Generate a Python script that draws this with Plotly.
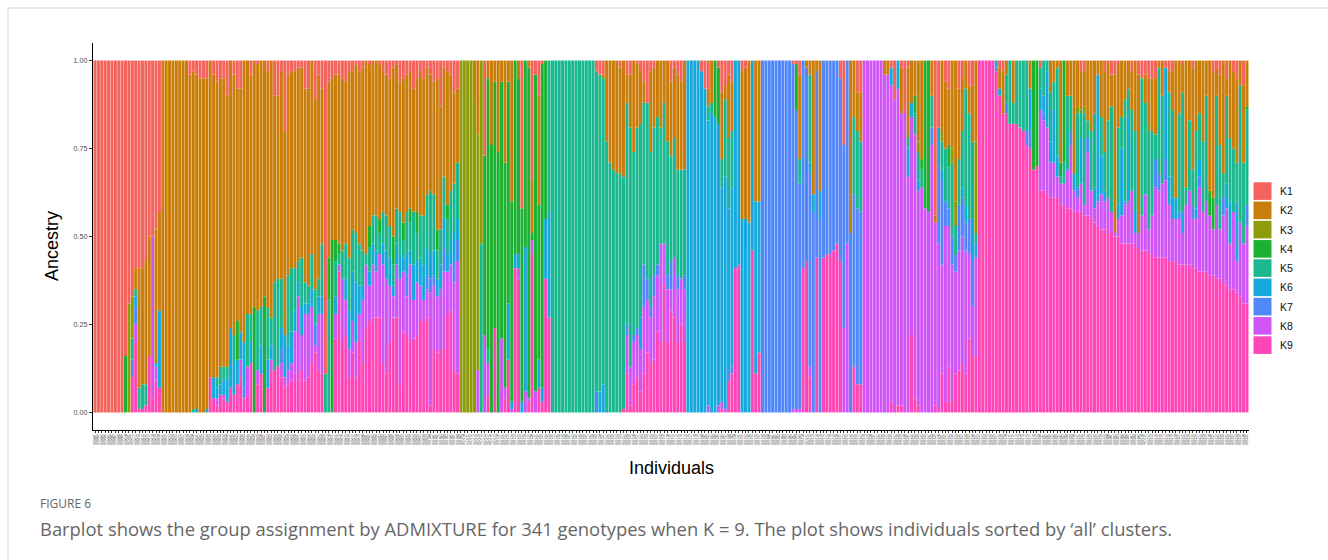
import plotly.graph_objects as go

# ADMIXTURE ancestry (percent) for each genotype, left to right.
# Keys are cluster numbers (1 = K1 ... 9 = K9); absent keys are 0.
block_a = (
    [{1: 100}] * 9
    + [
        {1: 84, 4: 16},
        {1: 69, 3: 31},
        {1: 67, 3: 12, 5: 6, 7: 5, 9: 10},
        {1: 59, 2: 6, 5: 2, 6: 3, 7: 5, 8: 5, 9: 20},
        {1: 59, 2: 34, 5: 6, 9: 1},
        {1: 59, 2: 33, 5: 7, 9: 1},
        {1: 57, 2: 35, 5: 6, 9: 2},
        {1: 50, 2: 34, 9: 16},
        {1: 50, 8: 46, 9: 4},
        {1: 48, 2: 38, 6: 1, 8: 4, 9: 9},
        {1: 43, 2: 28, 6: 22, 9: 7},
    ]
    + [{2: 100}] * 8
    + [
        {1: 4, 2: 96},
        {1: 3, 2: 96, 5: 1},
        {1: 4, 2: 95, 6: 1},
        {1: 5, 2: 95},
        {1: 5, 2: 95},
        {1: 5, 2: 94, 6: 1},
        {2: 90, 9: 10},
        {1: 4, 2: 86, 6: 6, 9: 4},
        {1: 6, 2: 84, 5: 3, 6: 3, 8: 2, 9: 2},
        {1: 5, 2: 82, 5: 5, 6: 3, 9: 5},
        {1: 5, 2: 82, 5: 4, 6: 4, 8: 1, 9: 4},
        {1: 10, 2: 77, 5: 3, 6: 7, 9: 3},
        {2: 76, 6: 17, 9: 7},
        {1: 4, 2: 74, 5: 8, 6: 9, 9: 5},
        {1: 8, 2: 66, 4: 11, 6: 7, 9: 8},
        {1: 8, 2: 69, 6: 8, 8: 5, 9: 10},
        {2: 80, 6: 13, 7: 3, 9: 4},
        {2: 72, 5: 15, 8: 8, 9: 5},
        {1: 4, 2: 68, 5: 8, 6: 6, 9: 14},
        {2: 70, 4: 30},
        {1: 1, 2: 70, 5: 17, 8: 4, 9: 8},
        {2: 70, 5: 11, 6: 8, 9: 11},
        {2: 67, 4: 33},
        {1: 3, 2: 67, 5: 15, 6: 8, 9: 7},
        {2: 73, 5: 8, 6: 4, 8: 3, 9: 12},
        {1: 10, 2: 53, 5: 25, 9: 12},
        {1: 10, 2: 52, 5: 25, 9: 13},
    ]
)

block_b = [
    {1: 3, 2: 59, 5: 14, 6: 6, 7: 4, 8: 4, 9: 10},
    {1: 20, 2: 58, 6: 12, 8: 3, 9: 7},
    {1: 4, 2: 57, 5: 20, 6: 7, 8: 4, 9: 8},
    {1: 3, 2: 56, 5: 18, 6: 9, 8: 5, 9: 9},
    {1: 3, 2: 56, 5: 12, 6: 6, 8: 12, 9: 11},
    {1: 2, 2: 55, 5: 6, 6: 4, 8: 24, 9: 9},
    {1: 2, 2: 54, 5: 14, 6: 8, 8: 10, 9: 12},
    {1: 8, 2: 55, 5: 6, 6: 3, 8: 19, 9: 9},
    {1: 8, 2: 56, 5: 5, 6: 3, 8: 18, 9: 10},
    {2: 55, 5: 10, 6: 5, 8: 16, 9: 14},
    {1: 11, 2: 54, 5: 10, 7: 6, 8: 2, 9: 17},
    {1: 4, 2: 58, 5: 5, 6: 5, 8: 16, 9: 12},
    {1: 8, 2: 44, 5: 15, 6: 5, 8: 17, 9: 11},
    {1: 89, 5: 11},
    {1: 6, 2: 50, 4: 12, 5: 32},
    {1: 5, 2: 46, 4: 49},
    {1: 4, 2: 47, 4: 6, 5: 10, 6: 5, 8: 7, 9: 21},
    {1: 4, 2: 48, 4: 3, 5: 3, 8: 2, 9: 40},
    {1: 5, 2: 49, 5: 8, 8: 18, 9: 20},
    {1: 6, 2: 46, 5: 10, 6: 6, 8: 10, 9: 22},
    {1: 3, 2: 53, 5: 15, 6: 11, 8: 8, 9: 10},
    {1: 3, 2: 45, 5: 12, 6: 14, 8: 9, 9: 17},
    {1: 1, 2: 48, 5: 14, 6: 17, 8: 10, 9: 10},
    {1: 3, 2: 49, 5: 12, 6: 8, 8: 8, 9: 20},
    {1: 2, 2: 52, 5: 10, 6: 4, 8: 18, 9: 14},
    {2: 55, 5: 3, 8: 18, 9: 24},
    {1: 1, 2: 46, 4: 6, 5: 7, 6: 4, 8: 10, 9: 26},
    {2: 44, 5: 8, 6: 6, 8: 15, 9: 27},
    {2: 44, 5: 10, 6: 6, 8: 13, 9: 27},
    {1: 1, 2: 44, 4: 4, 5: 6, 8: 18, 9: 27},
    {1: 3, 2: 40, 5: 9, 6: 6, 8: 28, 9: 14},
    {1: 4, 2: 40, 5: 10, 6: 8, 8: 27, 9: 11},
    {1: 5, 2: 42, 5: 9, 6: 8, 8: 16, 9: 20},
    {1: 2, 2: 48, 4: 8, 5: 6, 6: 3, 8: 6, 9: 27},
    {1: 1, 2: 41, 5: 10, 6: 6, 8: 15, 9: 27},
    {1: 6, 2: 37, 5: 12, 6: 7, 8: 30, 9: 8},
    {1: 5, 2: 41, 4: 5, 5: 5, 6: 4, 8: 17, 9: 23},
    {1: 4, 2: 39, 5: 12, 6: 6, 7: 6, 8: 11, 9: 22},
    {1: 3, 2: 39, 4: 4, 5: 8, 6: 4, 8: 22, 9: 20},
    {1: 8, 2: 35, 5: 15, 6: 10, 8: 11, 9: 21},
    {1: 5, 2: 38, 4: 6, 5: 8, 6: 6, 8: 15, 9: 22},
    {1: 3, 2: 41, 5: 12, 6: 8, 8: 10, 9: 26},
    {1: 5, 2: 39, 5: 14, 6: 10, 8: 6, 9: 26},
    {1: 2, 2: 36, 5: 15, 6: 8, 7: 4, 8: 8, 9: 27},
    {1: 4, 2: 33, 5: 18, 6: 7, 7: 4, 8: 32, 9: 2},
    {1: 6, 2: 32, 5: 16, 6: 7, 7: 3, 8: 18, 9: 18},
    {1: 5, 2: 43, 4: 6, 5: 8, 6: 5, 8: 16, 9: 17},
    {1: 13, 2: 35, 5: 10, 6: 7, 8: 17, 9: 18},
    {1: 2, 2: 31, 5: 12, 6: 8, 7: 7, 8: 22, 9: 18},
    {1: 3, 2: 38, 4: 4, 5: 10, 6: 5, 8: 12, 9: 28},
    {1: 4, 2: 33, 5: 14, 6: 7, 8: 13, 9: 29},
    {1: 9, 2: 26, 5: 14, 6: 8, 7: 6, 8: 25, 9: 12},
    {1: 8, 2: 21, 5: 16, 6: 6, 7: 6, 8: 32, 9: 11},
]

block_c = (
    [{3: 100}] * 4
    + [
        {2: 12, 3: 88},
        {2: 21, 3: 67, 8: 12},
        {3: 52, 5: 48},
        {1: 27, 4: 51, 8: 22},
        {2: 5, 4: 77, 5: 4, 8: 9, 9: 5},
        {2: 24, 4: 76},
        {2: 6, 4: 70, 9: 24},
        {2: 26, 4: 74},
        {2: 6, 4: 73, 8: 21},
        {2: 29, 4: 64, 8: 3, 9: 4},
        {2: 6, 4: 63, 6: 16, 9: 15},
        {2: 40, 4: 57, 6: 2, 8: 1},
        {4: 55, 6: 4, 9: 41},
        {2: 5, 4: 50, 6: 4, 8: 3, 9: 38},
        {1: 42, 4: 55, 6: 3},
        {4: 53, 6: 41, 8: 6},
        {2: 2, 4: 94, 8: 1, 9: 3},
        {1: 34, 2: 15, 4: 2, 8: 4, 9: 45},
        {1: 4, 4: 90, 8: 6},
        {1: 10, 2: 31, 4: 44, 6: 8, 9: 7},
        {1: 1, 4: 92, 6: 4, 9: 3},
        {4: 45, 6: 17, 9: 38},
        {5: 43, 6: 30, 9: 27},
    ]
    + [{5: 100}] * 13
    + [
        {1: 3, 5: 91, 7: 6},
        {1: 4, 5: 90, 6: 6},
        {1: 4, 2: 1, 5: 87, 6: 8},
        {2: 23, 5: 77},
        {2: 29, 5: 71},
        {2: 31, 5: 69},
        {2: 32, 5: 68},
        {1: 2, 2: 30, 5: 68},
        {2: 33, 5: 66, 9: 1},
        {1: 4, 2: 8, 5: 63, 7: 3, 8: 11, 9: 11},
        {1: 4, 2: 15, 5: 68, 8: 11, 9: 2},
        {2: 26, 5: 52, 7: 2, 8: 12, 9: 8},
        {1: 1, 2: 18, 5: 57, 7: 2, 8: 12, 9: 10},
        {1: 3, 2: 15, 5: 55, 6: 9, 8: 12, 9: 6},
        {1: 6, 2: 6, 5: 46, 7: 12, 8: 19, 9: 11},
        {1: 12, 5: 50, 7: 6, 8: 15, 9: 17},
        {1: 3, 2: 23, 5: 44, 7: 3, 8: 13, 9: 14},
        {1: 2, 2: 17, 5: 42, 7: 6, 8: 18, 9: 15},
        {2: 16, 5: 42, 7: 3, 8: 16, 9: 23},
        {2: 19, 5: 33, 8: 28, 9: 20},
    ]
)

block_d = (
    [
        {2: 12, 5: 40, 8: 11, 9: 37},
        {2: 23, 5: 38, 7: 4, 8: 15, 9: 20},
        {1: 6, 2: 21, 5: 30, 7: 8, 8: 6, 9: 29},
        {1: 2, 2: 20, 5: 34, 8: 17, 9: 27},
        {1: 4, 2: 27, 5: 30, 7: 4, 8: 15, 9: 20},
        {1: 6, 2: 25, 5: 31, 8: 13, 9: 25},
        {2: 31, 5: 30, 7: 4, 8: 15, 9: 20},
    ]
    + [{6: 100}] * 4
    + [
        {1: 3, 6: 97},
        {1: 8, 6: 92},
        {1: 8, 2: 5, 5: 4, 6: 81, 8: 2},
        {2: 12, 5: 3, 6: 85},
        {4: 16, 6: 84},
        {1: 2, 4: 16, 6: 80, 8: 2},
        {1: 9, 2: 19, 5: 8, 6: 61, 8: 2, 9: 1},
        {1: 7, 2: 4, 5: 22, 6: 66, 8: 1},
        {1: 4, 2: 18, 5: 20, 6: 46, 7: 3, 9: 9},
        {1: 6, 2: 14, 5: 16, 6: 51, 7: 2, 9: 11},
        {6: 59, 9: 41},
        {6: 58, 9: 42},
        {1: 3, 2: 42, 6: 55},
        {1: 2, 2: 43, 6: 55},
        {2: 46, 6: 54},
        {6: 54, 9: 46},
        {2: 40, 6: 49, 9: 11},
        {2: 40, 6: 43, 9: 17},
    ]
    + [{7: 100}] * 9
    + [
        {1: 1, 7: 98, 8: 1},
        {1: 1, 4: 13, 7: 85, 8: 1},
        {1: 4, 2: 24, 5: 7, 7: 64, 8: 1},
        {7: 59, 9: 41},
        {2: 2, 7: 55, 9: 43},
        {2: 4, 5: 25, 6: 3, 7: 55, 8: 3, 9: 10},
        {2: 38, 6: 5, 7: 57},
        {2: 3, 7: 53, 9: 44},
        {2: 37, 6: 8, 7: 55},
        {7: 56, 9: 44},
        {7: 55, 9: 45},
        {7: 55, 9: 45},
        {7: 54, 9: 46},
        {7: 52, 9: 48},
        {1: 5, 7: 52, 9: 43},
        {1: 24, 7: 52, 8: 24},
        {7: 52, 8: 48},
        {2: 49, 7: 51},
        {2: 16, 5: 22, 7: 49, 9: 13},
        {1: 9, 2: 11, 5: 22, 7: 50, 9: 8},
        {1: 9, 2: 14, 5: 20, 7: 49, 9: 8},
    ]
)

block_e = (
    [{8: 100}] * 6
    + [
        {2: 4, 8: 96},
        {2: 4, 8: 96},
        {1: 2, 6: 5, 8: 90, 9: 3},
        {1: 11, 8: 89},
        {6: 8, 8: 90, 9: 2},
        {1: 2, 2: 13, 8: 83, 9: 2},
        {1: 14, 8: 86},
        {1: 2, 2: 18, 3: 2, 5: 3, 6: 8, 8: 67},
        {2: 12, 6: 4, 8: 62, 9: 22},
        {2: 10, 4: 5, 5: 6, 8: 75, 9: 4},
        {2: 23, 3: 3, 5: 8, 6: 3, 8: 61, 9: 2},
        {2: 28, 4: 3, 5: 5, 8: 64},
        {4: 42, 8: 58},
        {4: 43, 8: 57},
        {2: 10, 5: 9, 7: 5, 8: 76},
        {1: 44, 2: 2, 8: 52, 9: 2},
        {1: 19, 6: 11, 7: 22, 8: 48},
        {2: 20, 3: 3, 5: 8, 6: 3, 7: 24, 8: 31, 9: 11},
        {1: 6, 2: 19, 5: 15, 7: 7, 8: 50, 9: 3},
        {1: 8, 2: 16, 4: 6, 5: 12, 7: 5, 8: 40, 9: 13},
        {2: 25, 3: 4, 5: 21, 7: 8, 8: 39, 9: 3},
        {2: 40, 3: 7, 5: 8, 7: 5, 8: 29, 9: 11},
        {1: 8, 2: 20, 5: 13, 7: 13, 8: 34, 9: 12},
        {1: 5, 2: 15, 5: 16, 6: 3, 7: 11, 8: 36, 9: 14},
        {2: 8, 5: 33, 6: 5, 7: 8, 8: 35, 9: 11},
        {1: 7, 2: 8, 5: 30, 7: 10, 8: 24, 9: 21},
        {1: 7, 2: 16, 5: 22, 6: 12, 7: 13, 8: 14, 9: 16},
        {2: 23, 3: 26, 5: 3, 6: 4, 8: 28, 9: 16},
    ]
    + [{9: 100}] * 5
    + [
        {6: 2, 7: 1, 9: 97},
        {1: 2, 2: 6, 6: 2, 9: 90},
        {1: 3, 2: 12, 9: 85},
        {2: 4, 5: 8, 7: 3, 9: 85},
        {5: 18, 9: 82},
        {2: 12, 5: 6, 9: 82},
        {5: 18, 9: 82},
        {5: 19, 9: 81},
        {5: 20, 9: 80},
        {5: 20, 7: 4, 9: 76},
        {2: 8, 6: 12, 7: 5, 9: 75},
        {4: 31, 9: 69},
        {4: 30, 9: 70},
    ]
)

block_f = [
    {1: 2, 5: 6, 6: 6, 8: 23, 9: 63},
    {5: 10, 6: 5, 7: 2, 8: 20, 9: 63},
    {5: 3, 6: 16, 8: 19, 9: 62},
    {2: 9, 5: 14, 6: 6, 8: 10, 9: 61},
    {2: 6, 5: 8, 6: 15, 8: 10, 9: 61},
    {2: 2, 5: 25, 6: 6, 8: 6, 9: 61},
    {2: 29, 4: 4, 5: 2, 8: 6, 9: 59},
    {4: 29, 5: 6, 8: 6, 9: 59},
    {2: 10, 5: 21, 8: 11, 9: 58},
    {2: 10, 5: 10, 7: 4, 8: 18, 9: 58},
    {2: 32, 6: 5, 8: 6, 9: 57},
    {2: 13, 3: 2, 5: 21, 7: 3, 8: 4, 9: 57},
    {1: 3, 2: 11, 5: 8, 6: 13, 8: 8, 9: 57},
    {1: 3, 2: 10, 3: 2, 5: 26, 8: 3, 9: 56},
    {2: 17, 5: 5, 7: 4, 8: 18, 9: 56},
    {2: 20, 5: 17, 8: 8, 9: 55},
    {2: 15, 5: 21, 6: 6, 8: 4, 9: 54},
    {2: 4, 6: 36, 8: 7, 9: 53},
    {2: 16, 5: 11, 6: 11, 8: 10, 9: 52},
    {1: 3, 2: 23, 5: 11, 6: 3, 8: 8, 9: 52},
    {2: 17, 5: 22, 8: 10, 9: 51},
    {1: 4, 2: 9, 5: 30, 8: 6, 9: 51},
    {1: 4, 2: 45, 8: 1, 9: 50},
    {1: 1, 2: 18, 5: 22, 6: 4, 8: 5, 9: 50},
    {2: 16, 5: 9, 6: 19, 8: 8, 9: 48},
    {2: 11, 5: 29, 7: 1, 8: 11, 9: 48},
    {2: 8, 5: 8, 6: 24, 8: 12, 9: 48},
    {1: 3, 2: 11, 5: 23, 8: 15, 9: 48},
    {2: 20, 5: 23, 6: 6, 8: 4, 9: 47},
    {1: 4, 2: 45, 8: 4, 9: 47},
    {1: 5, 5: 39, 8: 10, 9: 46},
    {1: 4, 2: 8, 5: 26, 8: 16, 9: 46},
    {1: 5, 2: 13, 3: 2, 5: 28, 8: 7, 9: 45},
    {1: 5, 2: 15, 5: 24, 8: 11, 9: 45},
    {1: 5, 2: 16, 5: 7, 7: 8, 8: 20, 9: 44},
    {2: 2, 5: 30, 7: 5, 8: 19, 9: 44},
    {2: 10, 5: 25, 8: 21, 9: 44},
    {1: 2, 6: 26, 7: 6, 8: 22, 9: 44},
    {1: 3, 2: 6, 5: 24, 6: 8, 8: 16, 9: 43},
    {1: 3, 2: 11, 5: 25, 6: 6, 8: 12, 9: 43},
    {2: 39, 6: 6, 8: 12, 9: 43},
    {2: 15, 5: 28, 7: 2, 8: 13, 9: 42},
    {1: 1, 2: 8, 5: 34, 6: 6, 8: 9, 9: 42},
    {2: 36, 5: 5, 8: 17, 9: 42},
    {2: 17, 5: 20, 8: 21, 9: 42},
    {1: 2, 2: 29, 5: 10, 7: 4, 8: 14, 9: 41},
    {2: 20, 5: 22, 6: 3, 8: 14, 9: 41},
    {2: 15, 5: 13, 6: 5, 7: 3, 8: 24, 9: 40},
    {2: 23, 5: 20, 8: 17, 9: 40},
    {2: 10, 5: 30, 8: 20, 9: 40},
    {2: 37, 4: 7, 8: 17, 9: 39},
    {1: 3, 2: 36, 4: 9, 8: 13, 9: 39},
    {1: 2, 2: 8, 5: 31, 8: 21, 9: 38},
    {1: 4, 2: 20, 5: 24, 8: 14, 9: 38},
    {2: 32, 5: 7, 7: 5, 8: 19, 9: 37},
    {1: 5, 2: 5, 5: 25, 6: 7, 8: 22, 9: 36},
    {2: 22, 5: 18, 6: 12, 8: 13, 9: 35},
    {1: 3, 2: 22, 5: 18, 8: 22, 9: 35},
    {1: 5, 2: 24, 5: 11, 6: 17, 8: 9, 9: 34},
    {2: 7, 5: 39, 8: 21, 9: 33},
    {1: 7, 2: 22, 5: 23, 8: 17, 9: 31},
    {2: 13, 4: 1, 5: 27, 7: 6, 8: 22, 9: 31},
]

clusters = ["K1", "K2", "K3", "K4", "K5", "K6", "K7", "K8", "K9"]
cluster_colors = ["#F4645C", "#C97D0A", "#8C9C0B", "#1DB131", "#1BB88F",
                  "#16A9DB", "#5287FA", "#CF55F7", "#FE46B6"]
y_ticks = [0, 0.25, 0.5, 0.75, 1.0]
y_tick_text = ["0.00", "0.25", "0.50", "0.75", "1.00"]

rows = block_a + block_b + block_c + block_d + block_e + block_f
n_ind = len(rows)
sample_ids = [f"IND{i + 1:03d}" for i in range(n_ind)]
positions = list(range(n_ind))

# proportions per cluster, each individual scaled to sum to 1
totals = [sum(r.values()) for r in rows]
props = {k: [r.get(k, 0) / t for r, t in zip(rows, totals)] for k in range(1, 10)}

# figure geometry (pixels)
W, H = 1328, 560
ML, MR, MT, MB = 93, 79, 43, 130
PW, PH = W - ML - MR, H - MT - MB


def fx(px):
    return (px - ML) / PW


def fy(py):
    return (H - MB - py) / PH


fig = go.Figure()
# K9 at the bottom of each bar, K1 on top
for k in range(9, 0, -1):
    fig.add_trace(go.Bar(
        x=positions, y=props[k], name=clusters[k - 1],
        marker=dict(color=cluster_colors[k - 1], line=dict(width=0)),
        showlegend=False, hoverinfo="skip",
    ))

shapes = []
annotations = []

# legend keys
for i, (name, col) in enumerate(zip(clusters, cluster_colors)):
    top = 182.3 + 19.25 * i
    shapes.append(dict(type="rect", xref="paper", yref="paper",
                       x0=fx(1253.5), x1=fx(1271.5), y0=fy(top + 17.6), y1=fy(top),
                       fillcolor=col, line=dict(width=0)))
    annotations.append(dict(xref="paper", yref="paper", x=fx(1277.5), y=fy(top + 8.8),
                            text=name, showarrow=False, xanchor="left", yanchor="middle",
                            font=dict(family="Liberation Sans, Arial", size=10.5, color="#111")))

# axis titles
annotations.append(dict(xref="paper", yref="paper", x=fx(671), y=fy(468), text="Individuals",
                        showarrow=False, xanchor="center", yanchor="middle",
                        font=dict(family="Liberation Sans, Arial", size=18, color="#000")))
annotations.append(dict(xref="paper", yref="paper", x=fx(52), y=fy(246), text="Ancestry",
                        showarrow=False, textangle=-90, xanchor="center", yanchor="middle",
                        font=dict(family="Liberation Sans, Arial", size=18, color="#000")))

# figure caption
annotations.append(dict(xref="paper", yref="paper", x=fx(38), y=fy(503), text="FIGURE 6",
                        showarrow=False, xanchor="left", yanchor="middle",
                        font=dict(family="Open Sans", size=12, color="#666")))
annotations.append(dict(xref="paper", yref="paper", x=fx(38), y=fy(528),
                        text="Barplot shows the group assignment by ADMIXTURE for 341 genotypes "
                             "when K = 9. The plot shows individuals sorted by \u2018all\u2019 clusters.",
                        showarrow=False, xanchor="left", yanchor="middle",
                        font=dict(family="Open Sans", size=18.4, color="#666")))

# page frame
shapes.append(dict(type="line", xref="paper", yref="paper", x0=fx(8), x1=fx(W),
                   y0=fy(8), y1=fy(8), line=dict(color="#d4d4d4", width=1)))
shapes.append(dict(type="line", xref="paper", yref="paper", x0=fx(8), x1=fx(8),
                   y0=fy(8), y1=fy(H), line=dict(color="#d4d4d4", width=1)))

fig.update_layout(
    width=W, height=H,
    margin=dict(l=ML, r=MR, t=MT, b=MB, pad=0),
    barmode="stack", bargap=0.1,
    plot_bgcolor="white", paper_bgcolor="white",
    shapes=shapes, annotations=annotations,
    xaxis=dict(
        range=[-0.6, n_ind - 0.4], tickmode="array", tickvals=positions, ticktext=sample_ids,
        tickangle=-90, tickfont=dict(family="Liberation Sans, Arial", size=3.2, color="#555"),
        ticks="outside", ticklen=2, tickwidth=0.5, tickcolor="#333",
        showline=True, linecolor="#000", linewidth=1, showgrid=False, zeroline=False,
    ),
    yaxis=dict(
        range=[-0.05, 1.05], tickmode="array", tickvals=y_ticks, ticktext=y_tick_text,
        tickfont=dict(family="Liberation Sans, Arial", size=7.2, color="#4d4d4d"),
        ticks="outside", ticklen=3, tickwidth=0.6, tickcolor="#333",
        showline=True, linecolor="#000", linewidth=1, showgrid=False, zeroline=False,
    ),
)

# draw bar edges with sub-pixel precision so the thin gaps are evenly softened
smooth_bars = (
    "document.querySelectorAll('.bars path').forEach(function(p){"
    "p.style.shapeRendering='geometricPrecision';});"
)
fig.write_html("out.html", post_script=smooth_bars)
